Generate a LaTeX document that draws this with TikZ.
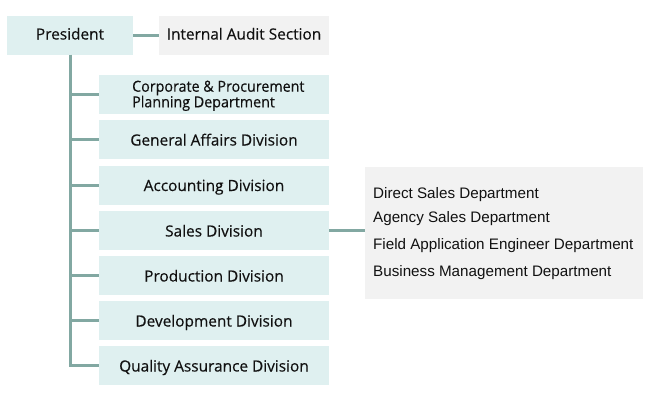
\documentclass[tikz,border=0pt]{standalone}
\usepackage{fontspec}
\setmainfont{Open Sans}[FakeBold=0.35]
\newfontfamily\narrowfont{Open Sans}[FakeBold=0.35, FakeStretch=0.94]
\newfontfamily\rightfont{Liberation Sans}
\definecolor{boxfill}{HTML}{DFF0F0}
\definecolor{grayfill}{HTML}{F2F2F2}
\definecolor{linecol}{HTML}{82A8A2}
\definecolor{txt}{HTML}{111111}
\begin{document}
\begin{tikzpicture}[x=1pt,y=-1pt,
  divbox/.style={fill=boxfill, minimum width=230pt, minimum height=39pt, inner sep=0pt,
    font=\fontsize{15.4}{15.6}\selectfont, text=txt, text height=12pt, text depth=0pt},
  topbox/.style={minimum height=39pt, inner sep=0pt, font=\fontsize{15.4}{15.6}\selectfont, text=txt,
    text height=10pt, text depth=1pt},
  subtext/.style={anchor=west, inner sep=0pt, font=\rightfont\fontsize{15.2}{16}\selectfont, text=txt,
    text height=10.5pt, text depth=3pt},
  conn/.style={draw=linecol, line width=3pt}]
\useasboundingbox (0,0) rectangle (650,415);
% top row
\node[topbox, fill=boxfill, minimum width=126pt] (pres) at (70,35) {President};
\node[topbox, fill=grayfill, minimum width=170pt] (audit) at (244,35) {Internal Audit Section};
% divisions
\node[divbox] (d1) at (214,94.5) {};
\node[inner sep=0pt, align=left, font=\narrowfont\fontsize{15.2}{15.6}\selectfont, text=txt, anchor=base west] (d1t) at (132,107.3) {Corporate \& Procurement\\Planning Department};
\node[divbox] (d2) at (214,139.5) {General Affairs Division};
\node[divbox] (d3) at (214,185) {Accounting Division};
\node[divbox] (d4) at (214,230.5) {Sales Division};
\node[divbox] (d5) at (214,275.5) {Production Division};
\node[divbox] (d6) at (214,320.5) {Development Division};
\node[divbox] (d7) at (214,365.5) {Quality Assurance Division};
% sales sub-departments
\node[fill=grayfill, minimum width=278pt, minimum height=132pt, inner sep=0pt] (sub) at (504,233) {};
\node[subtext] (s1) at (373,195) {Direct Sales Department};
\node[subtext] (s2) at (373,219) {Agency Sales Department};
\node[subtext] (s3) at (373,246) {Field Application Engineer Department};
\node[subtext] (s4) at (373,273) {Business Management Department};
% connectors
\coordinate (trunk) at (70,55);
\draw[conn] (pres.east) -- (audit.west);
\draw[conn] (pres.south -| trunk) |- (d7.west);
\foreach \n in {d1,d2,d3,d4,d5,d6} {
  \draw[conn] (trunk |- \n.west) -- (\n.west);
}
\draw[conn] (d4.east) -- (sub.west |- d4.east);
\end{tikzpicture}
\end{document}
